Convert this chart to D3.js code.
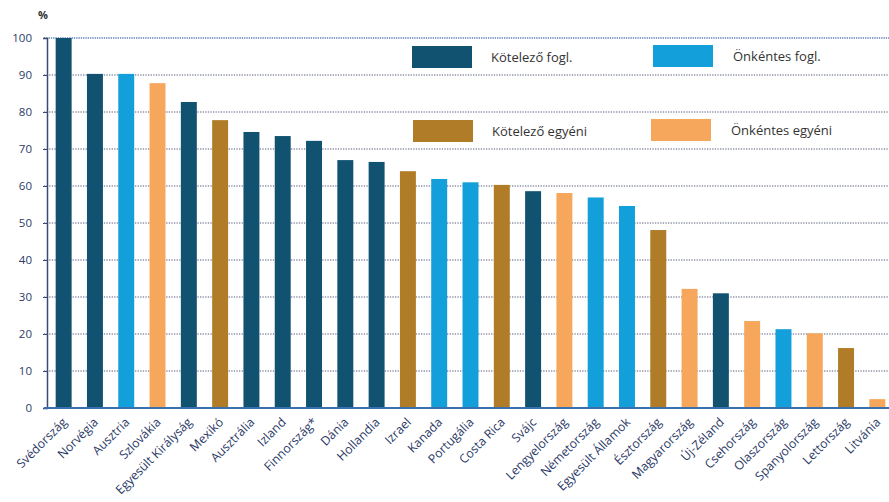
<!DOCTYPE html>
<html><head><meta charset="utf-8">
<script src="https://cdn.jsdelivr.net/npm/d3@7"></script>
<style>body{margin:0;background:#fff}svg{display:block}text{font-family:"Open Sans",sans-serif}</style>
</head><body><svg id="c" width="889" height="502"></svg>
<script>
const categories = ["Svédország","Norvégia","Ausztria","Szlovákia","Egyesült Királyság","Mexikó","Ausztrália","Izland","Finnország*","Dánia","Hollandia","Izrael","Kanada","Portugália","Costa Rica","Svájc","Lengyelország","Németország","Egyesült Államok","Észtország","Magyarország","Új-Zéland","Csehország","Olaszország","Spanyolország","Lettország","Litvánia"];
const values = [100,90.3,90.3,87.8,82.7,77.8,74.6,73.5,72.2,67,66.5,64,61.9,61,60.3,58.6,58.1,56.9,54.6,48.1,32.2,31,23.5,21.3,20.2,16.2,2.4];
const types = ["kf","kf","of","oe","kf","ke","kf","kf","kf","kf","kf","ke","of","of","ke","kf","oe","of","of","ke","oe","kf","oe","of","oe","ke","oe"];
const seriesKeys = ["kf","of","ke","oe"];
const seriesNames = ["Kötelező fogl.","Önkéntes fogl.","Kötelező egyéni","Önkéntes egyéni"];
const yTicks = [0,10,20,30,40,50,60,70,80,90,100];

const colors = {kf:"#10526f", of:"#139fda", ke:"#b07c27", oe:"#f6a75c"};
const svg = d3.select("#c");
const x = d3.scaleBand().domain(categories).range([48, 893]).paddingInner(0.49).paddingOuter(0.245);
const y = d3.scaleLinear().domain([0,100]).range([408, 38]);
const textCol = "#2b3a67";

// gridlines
svg.append("g").selectAll("line").data(yTicks.filter(d=>d>0 && d<100)).join("line")
  .attr("x1",44).attr("x2",889).attr("y1",d=>y(d)).attr("y2",d=>y(d))
  .attr("stroke","#8a90a6").attr("stroke-width",1.6).attr("stroke-dasharray","1.3,1.3");
svg.append("line").attr("x1",44).attr("x2",889).attr("y1",y(100)).attr("y2",y(100))
  .attr("stroke","#5b7fb8").attr("stroke-width",1.6).attr("stroke-dasharray","1.3,1");

// bars
svg.append("g").selectAll("rect").data(categories).join("rect")
  .attr("x",d=>x(d)).attr("width",x.bandwidth())
  .attr("y",(d,i)=>y(values[i])).attr("height",(d,i)=>y(0)-y(values[i]))
  .attr("fill",(d,i)=>colors[types[i]]);

// y axis
const ya = svg.append("g").attr("transform","translate(47,0)")
  .call(d3.axisLeft(y).tickValues(yTicks).tickSize(4).tickPadding(11));
ya.select(".domain").attr("stroke","#3b4a75").attr("stroke-width",1.5);
ya.selectAll(".tick line").attr("stroke","#3b4a75");
ya.selectAll("text").attr("fill",textCol).style("font-size","11.5px");

// x axis
const xa = svg.append("g").attr("transform","translate(0,408)")
  .call(d3.axisBottom(x).tickSize(0).tickPadding(0));
xa.select(".domain").remove();
svg.append("line").attr("x1",44).attr("x2",889).attr("y1",408).attr("y2",408)
  .attr("stroke","#3a6fb0").attr("stroke-width",2);
xa.selectAll("text").attr("fill",textCol).style("font-size","12.3px")
  .attr("text-anchor","end").attr("dy","0")
  .attr("transform","translate(4,15) rotate(-45)");

svg.append("text").attr("x",38).attr("y",19).text("%").attr("fill","#333")
  .style("font-size","11px").style("font-weight","bold");

// legend
const lg = [[412,46],[653,45],[413,120],[651,119]];
seriesKeys.forEach((k,i)=>{
  svg.append("rect").attr("x",lg[i][0]).attr("y",lg[i][1]).attr("width",60).attr("height",22).attr("fill",colors[k]);
  svg.append("text").attr("x",lg[i][0]+(i%2?80:79)).attr("y",lg[i][1]+16).text(seriesNames[i])
    .attr("fill","#333").style("font-size","13px");
});
</script></body></html>
